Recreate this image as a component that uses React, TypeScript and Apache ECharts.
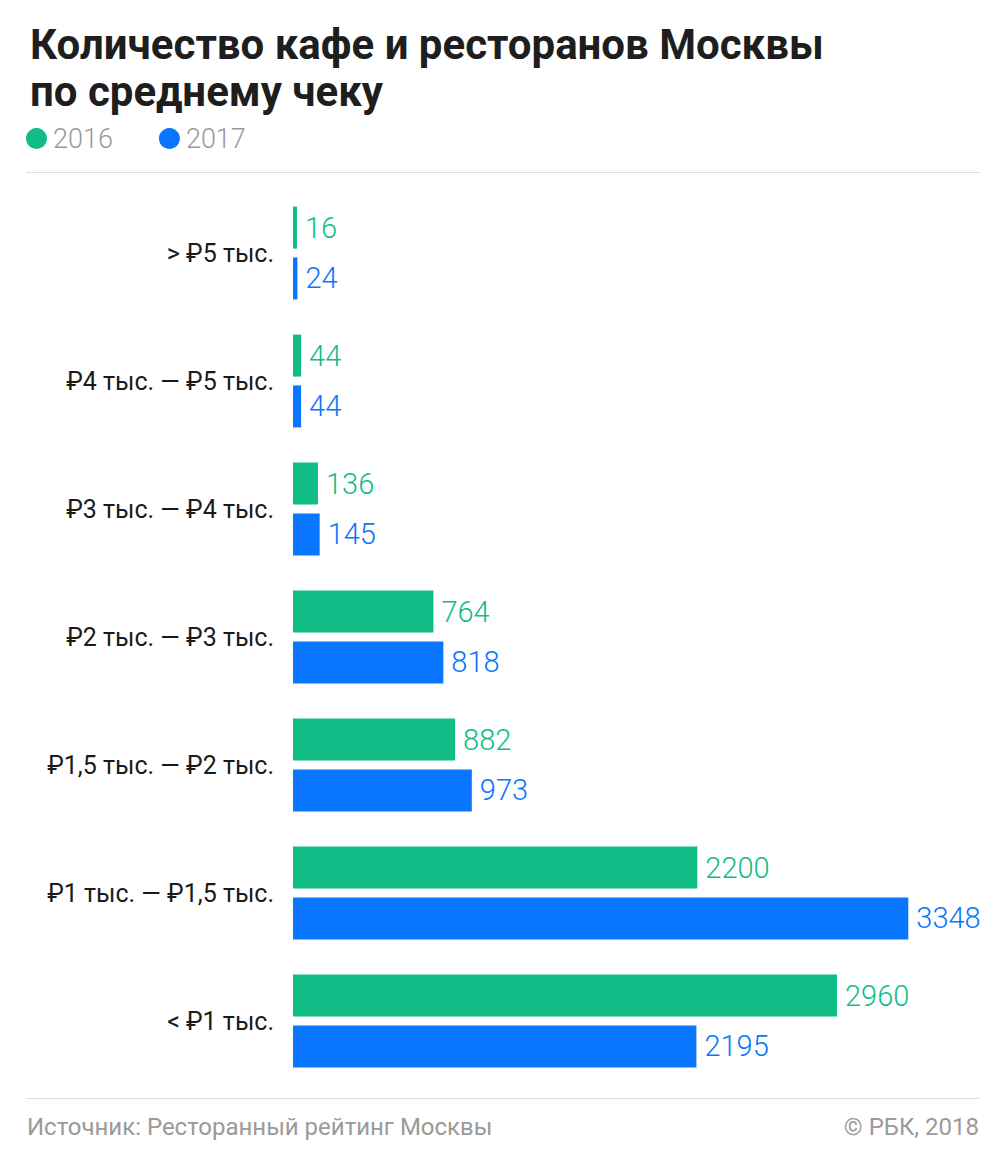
import React, { useEffect, useRef } from "react";
import * as echarts from "echarts";

const categories = [
  "> ₽5 тыс.",
  "₽4 тыс. — ₽5 тыс.",
  "₽3 тыс. — ₽4 тыс.",
  "₽2 тыс. — ₽3 тыс.",
  "₽1,5 тыс. — ₽2 тыс.",
  "₽1 тыс. — ₽1,5 тыс.",
  "< ₽1 тыс.",
];
const values2016 = [16, 44, 136, 764, 882, 2200, 2960];
const values2017 = [24, 44, 145, 818, 973, 3348, 2195];
const seriesNames = ["2016", "2017"];

const GREEN = "#12BC86";
const BLUE = "#0A75FF";
const FONT = "Roboto, 'Noto Sans', sans-serif";

export default function App() {
  const ref = useRef<HTMLDivElement>(null);
  useEffect(() => {
    document.body.style.margin = "0";
    const chart = echarts.init(ref.current!, null, { renderer: "svg" });
    const labelCommon = {
      show: true,
      position: "right",
      distance: 8,
      fontSize: 29,
      fontWeight: 300,
      fontFamily: FONT,
    };
    chart.setOption({
      animation: false,
      backgroundColor: "#ffffff",
      textStyle: { fontFamily: FONT },
      title: {
        text: "Количество кафе и ресторанов Москвы\nпо среднему чеку",
        left: 25,
        top: 16,
        textStyle: {
          fontSize: 42,
          fontWeight: "bold",
          color: "#1e1e1e",
          lineHeight: 47,
          fontFamily: FONT,
        },
      },
      legend: {
        left: 21,
        top: 120,
        icon: "circle",
        itemWidth: 21,
        itemHeight: 21,
        itemGap: 46,
        textStyle: {
          fontSize: 27,
          fontWeight: 300,
          color: "#9a9a9a",
          fontFamily: FONT,
          padding: [0, 0, 0, 1],
        },
        data: seriesNames,
      },
      grid: { left: 293, width: 680, top: 189, height: 896, containLabel: false },
      xAxis: {
        type: "value",
        min: 0,
        max: 3700,
        show: false,
      },
      yAxis: {
        type: "category",
        data: categories,
        inverse: true,
        axisLine: { show: false },
        axisTick: { show: false },
        splitLine: { show: false },
        axisLabel: { margin: 19, fontSize: 25, color: "#1a1a1a", fontFamily: FONT },
      },
      series: [
        {
          name: seriesNames[0],
          type: "bar",
          data: values2016,
          barWidth: 42,
          barGap: "21%",
          barMinHeight: 4,
          itemStyle: { color: GREEN },
          label: { ...labelCommon, color: GREEN },
        },
        {
          name: seriesNames[1],
          type: "bar",
          data: values2017,
          barWidth: 42,
          barGap: "21%",
          barMinHeight: 4,
          itemStyle: { color: BLUE },
          label: { ...labelCommon, color: BLUE },
        },
      ],
      graphic: [
        {
          type: "rect",
          shape: { x: 26, y: 172, width: 953, height: 1 },
          style: { fill: "#dddddd" },
        },
        {
          type: "rect",
          shape: { x: 26, y: 1098, width: 953, height: 1 },
          style: { fill: "#dddddd" },
        },
        {
          type: "text",
          x: 27,
          y: 1127,
          style: {
            text: "Источник: Ресторанный рейтинг Москвы",
            fontSize: 24,
            fill: "#9a9a9a",
            fontFamily: FONT,
            verticalAlign: "middle",
          },
        },
        {
          type: "text",
          x: 979,
          y: 1127,
          style: {
            text: "© РБК, 2018",
            fontSize: 24,
            fill: "#9a9a9a",
            fontFamily: FONT,
            align: "right",
            verticalAlign: "middle",
          },
        },
      ],
    });
    return () => chart.dispose();
  }, []);
  return <div ref={ref} style={{ width: 1005, height: 1158 }} />;
}
